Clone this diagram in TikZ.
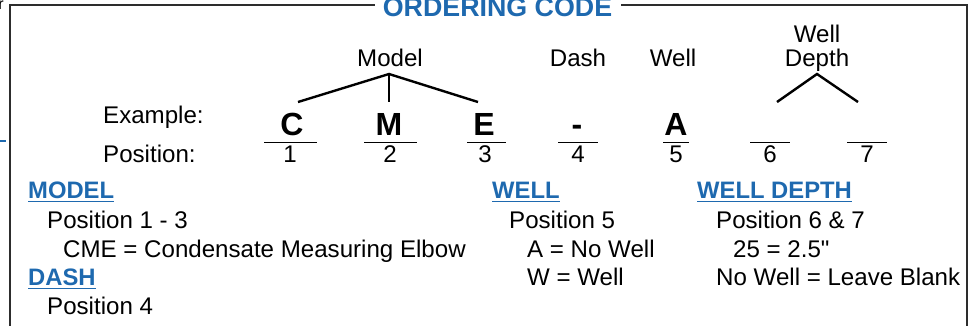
\documentclass[tikz,border=0pt]{standalone}
\usepackage{fontspec}
\setmainfont{Liberation Sans}
\newfontfamily\rawfont{Liberation Sans}
\definecolor{ocblue}{RGB}{30,105,175}
\definecolor{frame}{RGB}{45,45,45}
\begin{document}
\begin{tikzpicture}[x=1pt,y=-1pt,
  txt/.style={inner sep=0pt,font=\fontsize{24.1}{27}\selectfont},
  lft/.style={txt,anchor=base west},
  ctr/.style={txt,anchor=base},
  big/.style={inner sep=0pt,anchor=base,font=\fontsize{32}{36}\selectfont\bfseries},
  head/.style={inner sep=0pt,anchor=base west,text=ocblue,font=\fontsize{23.8}{27}\selectfont\bfseries},
  uline/.style={draw=ocblue,line width=1.4pt},
  frameline/.style={draw=frame,line width=1.8pt},
  posline/.style={draw=black,line width=0.9pt},
  branch/.style={draw=black,line width=2.4pt},
  stem/.style={draw=black,line width=1.1pt}]
\useasboundingbox (0,0) rectangle (974,325);

% fragments at the left edge
\node[txt,anchor=base,font=\fontsize{16}{18}\selectfont] (frag) at (1,9) {r};
\coordinate (tickA) at (0,141);
\coordinate (tickB) at (6,141);
\draw[draw=ocblue,line width=1.6pt] (tickA) -- (tickB);

% frame
\node[inner sep=0pt,anchor=base,text=ocblue,font=\fontsize{26.8}{30}\selectfont\bfseries] (title) at (497.5,16) {ORDERING CODE};
\coordinate (tl) at (10,5);
\coordinate (tr) at (967,5);
\coordinate (bl) at (10,330);
\coordinate (br) at (967,330);
\coordinate (tA) at (375,5);
\coordinate (tB) at (621,5);
\draw[frameline] (bl) -- (tl) -- (tA);
\draw[frameline] (tB) -- (tr) -- (br);

% labels above
\node[ctr] (lModel) at (390,66) {Model};
\node[ctr] (lDash) at (578,66) {Dash};
\node[ctr] (lWell) at (673,66) {Well};
\node[ctr] (lWell2) at (817,42) {Well};
\node[ctr] (lDepth) at (817,66) {Depth};

% trees
\coordinate (mApex) at (389,74);
\coordinate (mL) at (298,102);
\coordinate (mR) at (478,102);
\coordinate (mS) at (389,102);
\draw[branch] (mL) -- (mApex) -- (mR);
\draw[stem] (mApex) -- (mS);
\coordinate (dApex) at (817,74);
\coordinate (dL) at (777,102);
\coordinate (dR) at (858,102);
\draw[branch] (dL) -- (dApex) -- (dR);

% example row
\node[lft] (ex) at (103,123) {Example:};
\node[lft] (pos) at (103,162) {Position:};
\node[big] (c1) at (292,135) {C};
\node[big] (c2) at (389,135) {M};
\node[big] (c3) at (484,135) {E};
\node[big] (c4) at (577,135) {-};
\node[big] (c5) at (676,135) {A};

% underscores
\foreach \n/\a/\b in {1/264/317,2/364/417,3/467/506,4/558/598,5/663/689,6/750/790,7/847/887}{
  \coordinate (u\n a) at (\a,142);
  \coordinate (u\n b) at (\b,142);
  \draw[posline] (u\n a) -- (u\n b);
}
\node[ctr] (n1) at (290,162) {1};
\node[ctr] (n2) at (390,162) {2};
\node[ctr] (n3) at (485,162) {3};
\node[ctr] (n4) at (578,162) {4};
\node[ctr] (n5) at (676,162) {5};
\node[ctr] (n6) at (770,162) {6};
\node[ctr] (n7) at (867,162) {7};

% MODEL section
\node[head] (hModel) at (28,198) {MODEL};
\draw[uline] ([yshift=-3.5pt]hModel.base west) -- ([yshift=-3.5pt]hModel.base east);
\node[lft] (m1) at (47,228) {Position 1 - 3};
\node[lft] (m2) at (63,257) {CME = Condensate Measuring Elbow};
\node[head] (hDash) at (28,285) {DASH};
\draw[uline] ([yshift=-3.5pt]hDash.base west) -- ([yshift=-3.5pt]hDash.base east);
\node[lft] (d1) at (47,314) {Position 4};

% WELL section
\node[head] (hWell) at (492,198) {WELL};
\draw[uline] ([yshift=-3.5pt]hWell.base west) -- ([yshift=-3.5pt]hWell.base east);
\node[lft] (w1) at (509,228) {Position 5};
\node[lft] (w2) at (527,257) {A = No Well};
\node[lft] (w3) at (527,285) {W = Well};

% WELL DEPTH section
\node[head] (hDepth) at (697,198) {WELL DEPTH};
\draw[uline] ([yshift=-3.5pt]hDepth.base west) -- ([yshift=-3.5pt]hDepth.base east);
\node[lft] (wd1) at (716,228) {Position 6 \& 7};
\node[lft] (wd2) at (733,257) {25 = 2.5{\rawfont"}};
\node[lft] (wd3) at (716,285) {No Well = Leave Blank};
\end{tikzpicture}
\end{document}
